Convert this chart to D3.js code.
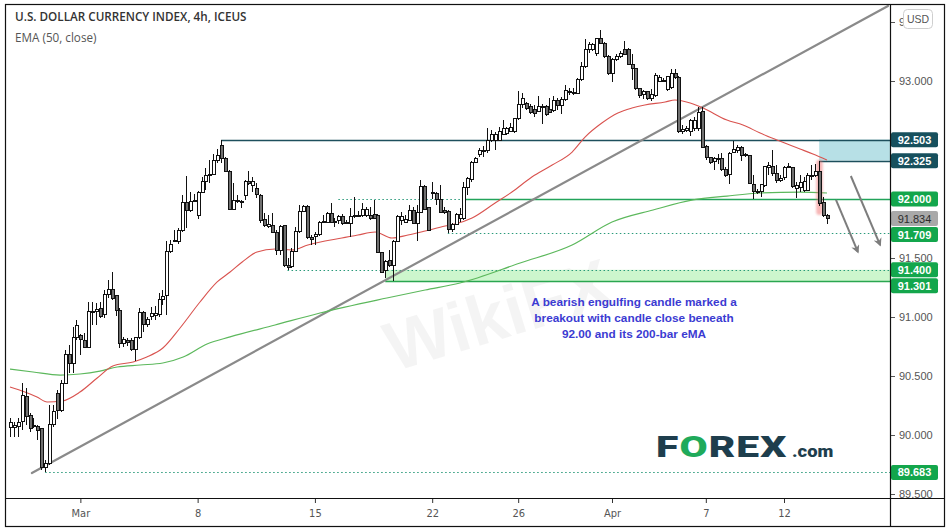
<!DOCTYPE html>
<html>
<head>
<meta charset="utf-8">
<script src="https://cdn.jsdelivr.net/npm/d3@7"></script>
<style>
  html, body { margin: 0; padding: 0; background: #fff; }
  svg { display: block; }
</style>
</head>
<body>
<svg id="chart" width="951" height="532"></svg>
<script>
// ---- 4h candles, U.S. Dollar Currency Index (ICEUS) ----
const opens = [
  90.062,90.065,90.071,90.118,90.324,90.169,90.080,90.071,90.051,89.725,
  89.759,90.085,90.353,90.211,90.437,90.683,90.607,90.827,90.840,90.805,
  90.740,91.040,91.045,91.068,91.017,91.192,91.237,91.178,91.059,90.777,
  90.802,90.805,90.726,90.827,91.039,90.937,91.002,91.011,91.017,91.150,
  91.181,91.553,91.638,91.638,91.732,91.971,91.901,91.980,91.864,92.056,
  92.147,92.198,92.209,92.330,92.452,92.340,92.237,91.915,91.985,91.983,
  92.033,92.147,92.118,92.090,92.033,91.830,91.765,91.774,91.717,91.567,
  91.774,91.435,91.426,91.553,91.723,91.892,91.935,91.672,91.681,91.700,
  91.805,91.802,91.879,91.808,91.822,91.850,91.799,91.794,91.853,91.860,
  91.864,91.864,91.864,91.870,91.864,91.547,91.398,91.483,91.440,91.644,
  91.814,91.802,91.822,91.906,91.794,91.887,92.104,91.926,92.051,92.048,
  92.000,91.904,91.898,91.738,91.786,91.836,91.836,92.097,92.162,92.311,
  92.379,92.404,92.407,92.500,92.500,92.500,92.549,92.557,92.571,92.571,
  92.678,92.803,92.811,92.783,92.755,92.740,92.780,92.783,92.755,92.746,
  92.831,92.791,92.839,92.907,92.904,92.896,93.009,93.122,93.263,93.263,
  93.235,93.356,93.320,93.207,93.065,93.178,93.207,93.271,93.271,93.142,
  93.108,92.933,92.887,92.910,92.848,92.876,93.000,93.003,92.929,92.946,
  93.062,93.031,92.571,92.579,92.571,92.599,92.599,92.740,92.444,92.353,
  92.317,92.340,92.345,92.252,92.209,92.393,92.410,92.438,92.373,92.365,
  92.127,92.065,92.062,92.111,92.269,92.274,92.218,92.161,92.184,92.277,
  92.269,92.090,92.099,92.071,92.076,92.200,92.203,92.237,91.969,91.856
];
const highs = [
  90.141,90.113,90.141,90.437,90.395,90.183,90.141,90.085,90.056,89.787,
  90.254,90.254,90.381,90.465,90.720,90.762,90.917,90.974,90.860,90.861,
  91.130,91.130,91.116,91.130,91.229,91.313,91.384,91.186,91.073,90.833,
  90.825,90.819,90.833,91.073,91.053,91.002,91.087,91.096,91.200,91.229,
  91.644,91.652,91.737,91.752,92.033,92.198,92.056,92.039,92.067,92.189,
  92.260,92.330,92.378,92.423,92.503,92.360,92.245,92.132,92.033,91.991,
  92.161,92.237,92.189,92.132,92.039,91.879,91.864,91.879,91.737,91.779,
  91.779,91.497,91.581,91.765,91.949,91.949,91.949,91.695,91.723,91.813,
  91.864,91.887,91.963,91.842,91.864,91.870,91.822,91.920,92.019,91.898,
  91.963,91.935,91.935,91.991,91.870,91.553,91.483,91.567,91.652,91.864,
  91.892,91.864,91.949,91.935,91.949,92.161,92.118,91.935,92.147,92.056,
  92.118,91.935,91.906,91.794,91.879,91.927,92.148,92.190,92.322,92.359,
  92.435,92.452,92.599,92.585,92.571,92.613,92.670,92.613,92.642,92.690,
  92.916,92.896,92.825,92.803,92.797,92.876,92.803,92.797,92.854,92.876,
  92.854,92.868,92.967,92.938,92.938,93.023,93.164,93.356,93.328,93.320,
  93.368,93.433,93.328,93.221,93.192,93.226,93.255,93.339,93.283,93.226,
  93.113,92.938,92.924,92.916,92.933,93.065,93.051,93.023,93.042,93.099,
  93.099,93.042,92.627,92.619,92.675,92.692,92.782,92.782,92.458,92.359,
  92.359,92.382,92.387,92.274,92.401,92.495,92.458,92.449,92.393,92.373,
  92.203,92.082,92.127,92.280,92.317,92.416,92.286,92.203,92.280,92.303,
  92.274,92.147,92.203,92.189,92.218,92.288,92.297,92.325,92.014,91.873
];
const lows = [
  89.985,89.985,89.985,90.042,90.085,90.028,90.056,89.957,89.700,89.683,
  89.745,90.070,90.135,90.197,90.429,90.523,90.523,90.805,90.678,90.734,
  90.734,90.932,90.932,90.994,90.988,91.158,91.144,91.011,90.734,90.748,
  90.757,90.712,90.627,90.813,90.875,90.917,90.974,90.974,91.002,91.102,
  91.017,91.539,91.633,91.615,91.723,91.757,91.887,91.977,91.830,92.048,
  92.076,92.132,92.203,92.302,92.302,92.230,91.906,91.906,91.963,91.920,
  91.991,92.118,92.062,92.005,91.794,91.765,91.751,91.709,91.525,91.525,
  91.426,91.400,91.418,91.547,91.709,91.887,91.661,91.610,91.610,91.689,
  91.794,91.794,91.794,91.765,91.785,91.779,91.794,91.681,91.842,91.850,
  91.850,91.850,91.822,91.830,91.539,91.370,91.333,91.426,91.301,91.638,
  91.780,91.794,91.813,91.785,91.644,91.879,91.906,91.728,92.000,91.949,
  91.879,91.870,91.709,91.724,91.780,91.808,91.822,92.035,92.148,92.303,
  92.359,92.359,92.387,92.486,92.416,92.492,92.543,92.543,92.565,92.557,
  92.670,92.769,92.755,92.718,92.698,92.735,92.633,92.707,92.726,92.735,
  92.755,92.718,92.831,92.882,92.882,92.887,93.000,93.108,93.235,93.255,
  93.215,93.311,93.198,93.051,92.995,93.170,93.192,93.221,93.136,93.009,
  92.924,92.859,92.848,92.840,92.831,92.868,92.989,92.989,92.918,92.929,
  93.020,92.562,92.551,92.571,92.534,92.579,92.579,92.430,92.331,92.297,
  92.246,92.297,92.240,92.184,92.127,92.387,92.393,92.325,92.359,92.127,
  91.997,92.042,92.020,92.105,92.203,92.195,92.139,92.147,92.161,92.260,
  92.090,92.006,92.062,92.062,92.071,92.161,92.189,91.941,91.845,91.788
];
const closes = [
  90.107,90.078,90.107,90.338,90.161,90.056,90.070,90.042,89.725,89.759,
  90.085,90.197,90.211,90.437,90.683,90.607,90.827,90.926,90.810,90.740,
  91.045,91.045,91.065,91.003,91.192,91.237,91.158,91.054,90.777,90.813,
  90.785,90.726,90.827,91.039,90.937,90.983,91.031,91.031,91.150,91.175,
  91.553,91.615,91.650,91.732,91.971,91.901,91.977,91.986,92.056,92.147,
  92.203,92.209,92.330,92.372,92.344,92.237,91.915,91.991,91.991,91.980,
  92.147,92.132,92.147,92.039,91.822,91.779,91.785,91.717,91.567,91.765,
  91.435,91.418,91.553,91.723,91.892,91.935,91.672,91.661,91.700,91.802,
  91.808,91.879,91.802,91.799,91.850,91.794,91.802,91.850,91.856,91.864,
  91.915,91.915,91.836,91.836,91.547,91.378,91.474,91.435,91.644,91.850,
  91.850,91.830,91.906,91.794,91.887,92.104,91.915,91.737,92.048,92.000,
  91.887,91.887,91.745,91.786,91.865,91.870,92.097,92.170,92.311,92.339,
  92.407,92.407,92.500,92.543,92.543,92.571,92.594,92.599,92.605,92.678,
  92.803,92.848,92.769,92.735,92.726,92.783,92.783,92.718,92.735,92.831,
  92.791,92.839,92.916,92.910,92.896,93.009,93.122,93.263,93.311,93.311,
  93.356,93.320,93.207,93.065,93.178,93.207,93.235,93.226,93.142,93.108,
  92.933,92.876,92.910,92.848,92.882,93.046,93.028,93.000,93.037,93.062,
  93.031,92.571,92.590,92.599,92.664,92.664,92.732,92.438,92.353,92.308,
  92.345,92.342,92.252,92.203,92.387,92.421,92.438,92.365,92.365,92.133,
  92.062,92.062,92.119,92.274,92.280,92.218,92.161,92.175,92.269,92.274,
  92.105,92.111,92.139,92.147,92.203,92.203,92.237,91.963,91.856,91.834
];

// moving averages, [bar, value]
const ema50 = [
  [0,90.407],[3.8,90.364],[6.9,90.322],[9.5,90.280],[13.3,90.288],[17.9,90.364],
  [22.3,90.483],[26.3,90.585],[31.5,90.619],[35.0,90.661],[39.1,90.737],[43.5,90.907],
  [48.6,91.127],[53.0,91.297],[56.3,91.381],[59.4,91.466],[63.2,91.551],[67.8,91.576],
  [72.1,91.568],[76.2,91.610],[80.6,91.644],[84.9,91.669],[89.0,91.695],[93.4,91.720],
  [97.7,91.669],[101.8,91.695],[106.2,91.729],[111.3,91.771],[113.8,91.788],[118.2,91.839],
  [124.1,91.966],[128.4,92.059],[133.5,92.186],[138.7,92.288],[143.8,92.398],[147.1,92.525],
  [151.4,92.644],[155.5,92.729],[159.1,92.771],[162.4,92.797],[167.6,92.822],[170.1,92.839],
  [174.0,92.814],[177.3,92.771],[183.4,92.669],[187.5,92.627],[191.9,92.559],[196.2,92.500],
  [202.1,92.424],[205.4,92.381],[209,92.331]
];
const ema200 = [
  [0,90.559],[5.9,90.534],[12.8,90.508],[17.9,90.517],[23.0,90.542],[27.4,90.576],
  [33.3,90.593],[39.1,90.610],[44.3,90.661],[50.4,90.771],[56.3,90.831],[67.8,90.932],
  [79.3,91.034],[96.4,91.161],[106.2,91.229],[115.1,91.288],[130.5,91.458],[143.8,91.610],
  [154.0,91.805],[164.5,91.907],[174.7,91.992],[183.4,92.025],[191.9,92.051],[202.1,92.059],
  [209,92.051]
];

// rising trendline, [bar, value]
const trendLine = [[5.6, 89.678], [224.6, 93.636]];

// horizontal levels and the bar each one starts from
const levelValues = [92.503, 92.325, 92.000, 91.709, 91.400, 91.301, 89.683];
const levelStartBars = [54, 207, 84, 112, 71, 96, 9];
const levelSolidFromBar = 116;   // 92.000 turns solid from here
const engulfingBar = 207;

// projected path arrows, [bar, value] from -> to
const arrowsFrom = [[211.3, 91.992], [215.1, 92.195]];
const arrowsTo   = [[216.9, 91.551], [222.6, 91.610]];

// axes
const priceTicks = [89.5, 90, 90.5, 91, 91.5, 92, 92.5, 93, 93.5];
const timeTickBars = [18, 48, 78, 108, 130, 154, 178, 198];
const timeTickLabels = ["Mar", "8", "15", "22", "26", "Apr", "7", "12"];

const titleText = "U.S. DOLLAR CURRENCY INDEX, 4h, ICEUS";
const studyText = "EMA (50, close)";
const noteLines = [
  "A bearish engulfing candle marked a",
  "breakout with candle close beneath",
  "92.00 and its 200-bar eMA"
];

// ---------------------------------------------------------------
const svg = d3.select("#chart");
const plot = { left: 6, right: 890, top: 5, bottom: 498 };

const x = d3.scaleLinear().domain([0, opens.length - 1]).range([10, 827]);
const y = d3.scaleLinear().domain([89.5, 93]).range([494, 81]);

const defs = svg.append("defs");
defs.append("clipPath").attr("id", "plotClip")
  .append("rect").attr("x", plot.left).attr("y", plot.top)
  .attr("width", plot.right - plot.left).attr("height", plot.bottom - plot.top);
const blur = defs.append("filter").attr("id", "soft").attr("x", "-50%").attr("y", "-20%")
  .attr("width", "200%").attr("height", "140%");
blur.append("feGaussianBlur").attr("stdDeviation", 1.2);
defs.append("marker").attr("id", "arrowHead").attr("viewBox", "0 0 10 10")
  .attr("refX", 8).attr("refY", 5).attr("markerWidth", 4.2).attr("markerHeight", 4.2)
  .attr("orient", "auto")
  .append("path").attr("d", "M0,0 L10,5 L0,10 L3,5 z").attr("fill", "#7d7d7d");

svg.append("rect").attr("width", 951).attr("height", 532).attr("fill", "#fff");

const g = svg.append("g").attr("clip-path", "url(#plotClip)");

// faint watermark
g.append("text").attr("x", 505).attr("y", 338)
  .attr("transform", "rotate(-17,505,338)")
  .attr("text-anchor", "middle")
  .attr("font-family", "Liberation Sans, Arial, sans-serif")
  .attr("font-weight", "bold").attr("font-size", 70)
  .attr("fill", "#000").attr("opacity", 0.04).text("WikiFX");

const bars = opens.map((o, i) => ({ i, o, h: highs[i], l: lows[i], c: closes[i] }));
const rightEdge = plot.right;

// zones
g.append("rect")
  .attr("x", x(levelStartBars[1])).attr("y", y(levelValues[0]))
  .attr("width", rightEdge - x(levelStartBars[1]))
  .attr("height", y(levelValues[1]) - y(levelValues[0]))
  .attr("fill", "#b7e0e6");
g.append("rect")
  .attr("x", x(levelStartBars[5])).attr("y", y(levelValues[4]))
  .attr("width", rightEdge - x(levelStartBars[5]))
  .attr("height", y(levelValues[5]) - y(levelValues[4]))
  .attr("fill", "#cdf6cd");

// level lines
const dotted = "1.5,2.5";
function hLine(v, fromBar, toX, color, dash, w) {
  g.append("line")
    .attr("x1", x(fromBar)).attr("x2", toX)
    .attr("y1", Math.round(y(v)) + 0.5).attr("y2", Math.round(y(v)) + 0.5)
    .attr("stroke", color).attr("stroke-width", w || 1)
    .attr("stroke-dasharray", dash || null);
}
hLine(levelValues[0], levelStartBars[0], rightEdge, "#1d4f5c", null, 1.3);
hLine(levelValues[1], levelStartBars[1], rightEdge, "#1d4f5c", null, 1.3);
hLine(levelValues[2], levelStartBars[2], x(levelSolidFromBar), "#2a9a7a", dotted, 1.2);
hLine(levelValues[2], levelSolidFromBar, rightEdge, "#22a35a", null, 1.3);
hLine(levelValues[3], levelStartBars[3], rightEdge, "#2a9a7a", dotted, 1.2);
hLine(levelValues[4], levelStartBars[4], rightEdge, "#2a9a7a", dotted, 1.2);
hLine(levelValues[5], levelStartBars[5], rightEdge, "#2aa650", null, 1.3);
hLine(levelValues[6], levelStartBars[6], rightEdge, "#2a9a7a", dotted, 1.2);

// trendline
g.append("line")
  .attr("x1", x(trendLine[0][0])).attr("y1", y(trendLine[0][1]))
  .attr("x2", x(trendLine[1][0])).attr("y2", y(trendLine[1][1]))
  .attr("stroke", "#8a8a8a").attr("stroke-width", 2.2).attr("stroke-linecap", "round");

// moving averages
const maLine = d3.line().x(d => x(d[0])).y(d => y(d[1])).curve(d3.curveMonotoneX);
g.append("path").attr("d", maLine(ema200)).attr("fill", "none")
  .attr("stroke", "#5cb85c").attr("stroke-width", 1.2);
g.append("path").attr("d", maLine(ema50)).attr("fill", "none")
  .attr("stroke", "#d9534f").attr("stroke-width", 1.1);

// highlight behind the engulfing candle
const eb = bars[engulfingBar];
g.append("rect")
  .attr("x", x(eb.i) - 3).attr("y", y(eb.h) - 1)
  .attr("width", 6.5).attr("height", y(eb.l) - y(eb.h) + 10)
  .attr("rx", 3).attr("fill", "#ef7070").attr("opacity", 0.5)
  .attr("filter", "url(#soft)");

// candles
const cg = g.append("g").attr("shape-rendering", "crispEdges");
cg.selectAll("line.wick").data(bars).join("line").attr("class", "wick")
  .attr("x1", d => Math.round(x(d.i)) + 0.5).attr("x2", d => Math.round(x(d.i)) + 0.5)
  .attr("y1", d => y(d.h)).attr("y2", d => y(d.l))
  .attr("stroke", "#111").attr("stroke-width", 1);
cg.selectAll("rect.body").data(bars).join("rect").attr("class", "body")
  .attr("x", d => Math.round(x(d.i)) - 1)
  .attr("width", 3)
  .attr("y", d => y(Math.max(d.o, d.c)))
  .attr("height", d => Math.max(1, Math.abs(y(d.o) - y(d.c))))
  .attr("fill", d => d.c >= d.o ? "#ffffff" : "#707070")
  .attr("stroke", "#111").attr("stroke-width", 1);

// arrows
arrowsFrom.forEach((a, k) => {
  g.append("line")
    .attr("x1", x(a[0])).attr("y1", y(a[1]))
    .attr("x2", x(arrowsTo[k][0])).attr("y2", y(arrowsTo[k][1]))
    .attr("stroke", "#7d7d7d").attr("stroke-width", 2)
    .attr("marker-end", "url(#arrowHead)");
});

// commentary
const note = svg.append("text")
  .attr("text-anchor", "middle")
  .attr("font-family", "Liberation Sans, Arial, sans-serif")
  .attr("font-weight", "bold").attr("font-size", 11.8)
  .attr("fill", "#3b3bd2");
noteLines.forEach((t, k) => {
  note.append("tspan").attr("x", 634).attr("y", 306 + k * 16).text(t);
});

// broker logo
const logoG = svg.append("g");
logoG.append("text")
  .attr("transform", "translate(656,457) scale(1.36,1)")
  .attr("font-family", "Roboto, Lato, sans-serif")
  .attr("font-weight", 900).attr("font-size", 30)
  .attr("letter-spacing", 0.8)
  .attr("fill", "#1e3e4d")
  .call(t => {
    t.append("tspan").text("F");
    t.append("tspan").attr("fill", "#1faa5b").text("O");
    t.append("tspan").text("REX");
  });
logoG.append("text")
  .attr("transform", "translate(792,457) scale(1.15,1)")
  .attr("font-family", "Roboto, Lato, sans-serif")
  .attr("font-weight", 900).attr("font-size", 16)
  .attr("fill", "#1e3e4d").text(".com");

// title
svg.append("text").attr("x", 15).attr("y", 21)
  .attr("font-family", "Open Sans, Noto Sans, sans-serif")
  .attr("font-weight", 600).attr("font-size", 11.7)
  .attr("fill", "#333").text(titleText);
svg.append("text").attr("x", 15).attr("y", 42)
  .attr("font-family", "Open Sans, Noto Sans, sans-serif")
  .attr("font-size", 11.7).attr("fill", "#555").text(studyText);

// price axis
const yAxis = svg.append("g").attr("transform", `translate(${plot.right},0)`)
  .call(d3.axisRight(y).tickValues(priceTicks).tickSize(5).tickPadding(4)
    .tickFormat(d3.format(".3f")));
yAxis.select(".domain").remove();
yAxis.selectAll(".tick line").attr("stroke", "#555");
yAxis.selectAll(".tick text")
  .attr("font-family", "Liberation Sans, Arial, sans-serif")
  .attr("font-size", 11).attr("fill", "#555");

// time axis
const xAxis = svg.append("g").attr("transform", `translate(0,${plot.bottom})`)
  .call(d3.axisBottom(x).tickValues(timeTickBars).tickSize(5).tickPadding(6)
    .tickFormat((d, i) => timeTickLabels[i]));
xAxis.select(".domain").remove();
xAxis.selectAll(".tick line").attr("stroke", "#333");
xAxis.selectAll(".tick text")
  .attr("font-family", "DejaVu Sans Condensed, DejaVu Sans, sans-serif")
  .attr("font-stretch", "condensed")
  .attr("font-size", 11).attr("fill", "#555");

// currency badge
svg.append("rect").attr("x", 903.5).attr("y", 9.5).attr("width", 29).attr("height", 19)
  .attr("rx", 4).attr("fill", "#fff").attr("stroke", "#cfcfcf");
svg.append("text").attr("x", 918).attr("y", 23).attr("text-anchor", "middle")
  .attr("font-family", "Liberation Sans, Arial, sans-serif")
  .attr("font-size", 10.5).attr("fill", "#555").text("USD");

// level value tags on the price scale
const lastClose = closes[closes.length - 1];
const tags = levelValues.map((v, k) => ({
  v, fill: k < 2 ? "#17505d" : "#13a64c", text: "#fff", bold: true
}));
tags.push({ v: lastClose, fill: "#a9a9a9", text: "#2d2d2d", bold: false });
tags.forEach(t => t.cy = y(t.v));
tags.sort((a, b) => a.cy - b.cy);
for (let k = 1; k < tags.length; k++) {
  if (tags[k].cy - tags[k - 1].cy < 16) tags[k].cy = tags[k - 1].cy + 16;
}
const tagG = svg.append("g");
tags.forEach(t => {
  tagG.append("rect").attr("x", 891).attr("y", t.cy - 7.5)
    .attr("width", 47).attr("height", 15).attr("rx", 2).attr("fill", t.fill);
  tagG.append("text").attr("x", 914.5).attr("y", t.cy + 4)
    .attr("text-anchor", "middle")
    .attr("font-family", "Liberation Sans, Arial, sans-serif")
    .attr("font-weight", t.bold ? "bold" : "normal")
    .attr("font-size", 11).attr("fill", t.text)
    .text(d3.format(".3f")(t.v));
});

// frame
svg.append("rect").attr("x", 5.5).attr("y", 4.5).attr("width", 939).attr("height", 522)
  .attr("fill", "none").attr("stroke", "#111").attr("stroke-width", 1.2);
svg.append("line").attr("x1", plot.right + 0.5).attr("x2", plot.right + 0.5)
  .attr("y1", 4.5).attr("y2", 526.5).attr("stroke", "#111").attr("stroke-width", 1.2);
svg.append("line").attr("x1", 5.5).attr("x2", 944.5)
  .attr("y1", plot.bottom + 0.5).attr("y2", plot.bottom + 0.5)
  .attr("stroke", "#111").attr("stroke-width", 1.2);
</script>
</body>
</html>
